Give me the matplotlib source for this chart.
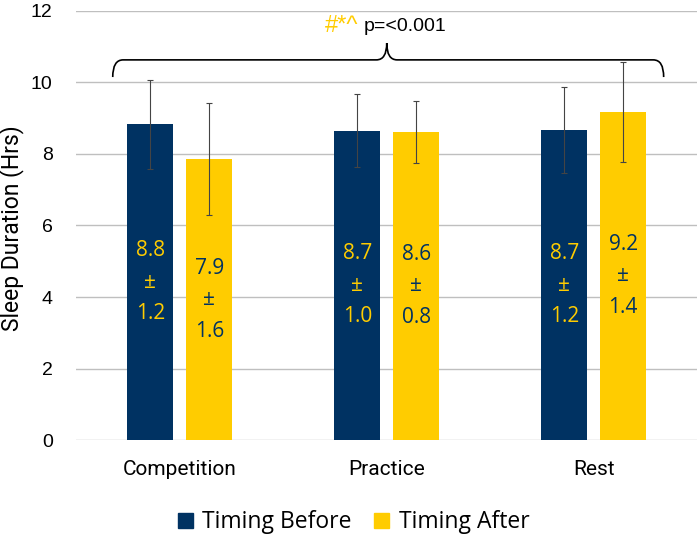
import matplotlib
matplotlib.use("Agg")
import matplotlib.pyplot as plt
import numpy as np
from matplotlib.path import Path
from matplotlib.patches import PathPatch, Patch

categories = ["Competition", "Practice", "Rest"]
before_vals = [8.83, 8.65, 8.67]
after_vals = [7.85, 8.62, 9.18]
before_err = [1.25, 1.02, 1.19]
after_err = [1.57, 0.86, 1.40]
before_labels = ["8.8\n±\n1.2", "8.7\n±\n1.0", "8.7\n±\n1.2"]
after_labels = ["7.9\n±\n1.6", "8.6\n±\n0.8", "9.2\n±\n1.4"]
series_names = ["Timing Before", "Timing After"]
yticks = [0, 2, 4, 6, 8, 10, 12]

NAVY = "#003262"
GOLD = "#FFCC00"

fig = plt.figure(figsize=(7, 5.44), dpi=100)
ax = fig.add_axes([0.109, 0.191, 0.887, 0.789])

x = np.arange(len(categories))
w = 0.222
off = 0.1425
ekw = dict(ecolor="#444444", elinewidth=0.8, capsize=2.5, capthick=0.8)
ax.bar(x - off, before_vals, w, color=NAVY, yerr=before_err, error_kw=ekw, zorder=3)
ax.bar(x + off, after_vals, w, color=GOLD, yerr=after_err, error_kw=ekw, zorder=3)

lab_font = "Open Sans"
for i in range(len(categories)):
    ax.text(x[i] - off, before_vals[i] / 2, before_labels[i], ha="center", va="center",
            color=GOLD, fontsize=15, family=lab_font, linespacing=1.65, zorder=4)
    ax.text(x[i] + off, after_vals[i] / 2, after_labels[i], ha="center", va="center",
            color=NAVY, fontsize=15, family=lab_font, linespacing=1.65, zorder=4)

ax.set_xlim(-0.5, 2.5)
ax.set_ylim(0, 12)
ax.set_yticks(yticks)
ax.set_xticks(x)
ax.set_xticklabels(categories, fontsize=15, family="Roboto")
ax.set_yticklabels([str(t) for t in yticks], fontsize=14, family="Liberation Sans")
ax.tick_params(axis="both", length=0)
ax.tick_params(axis="y", pad=17)
ax.tick_params(axis="x", pad=14)
ax.grid(axis="y", color="#bfbfbf", linewidth=1.0, zorder=0)
for s in ax.spines.values():
    s.set_visible(False)
ax.set_axisbelow(True)
fig.text(12 / 700, 0.58, "Sleep Duration (Hrs)", rotation=90, ha="center", va="center",
         fontsize=16.5, family="Roboto")

# curly brace
x0, x1, xc = -0.324, 2.338, 1.0
yt, yl, yp = 10.15, 10.63, 11.1
r = 0.05
verts = [(x0, yt), (x0, yl), (x0 + r, yl),
         (xc - r, yl), (xc, yl), (xc, yp),
         (xc, yl), (xc + r, yl),
         (x1 - r, yl), (x1, yl), (x1, yt)]
codes = [Path.MOVETO, Path.CURVE3, Path.CURVE3,
         Path.LINETO, Path.CURVE3, Path.CURVE3,
         Path.CURVE3, Path.CURVE3,
         Path.LINETO, Path.CURVE3, Path.CURVE3]
ax.add_patch(PathPatch(Path(verts, codes), facecolor="none", edgecolor="black",
                       linewidth=1.2, clip_on=False, zorder=5))
ax.text(0.865, 11.58, "#*^", ha="right", va="center", color=GOLD, fontsize=17,
        family="Liberation Sans")
ax.text(0.89, 11.55, "p=<0.001", ha="left", va="center", color="black", fontsize=14,
        family="Liberation Sans")

handles = [Patch(color=NAVY), Patch(color=GOLD)]
fig.legend(handles, series_names, loc="center", bbox_to_anchor=(0.505, 0.04), ncol=2,
           frameon=False, prop={"family": lab_font, "size": 16.5}, handlelength=0.65,
           handleheight=0.65, handletextpad=0.43, columnspacing=0.95)

fig.savefig("out.png", dpi=100)
